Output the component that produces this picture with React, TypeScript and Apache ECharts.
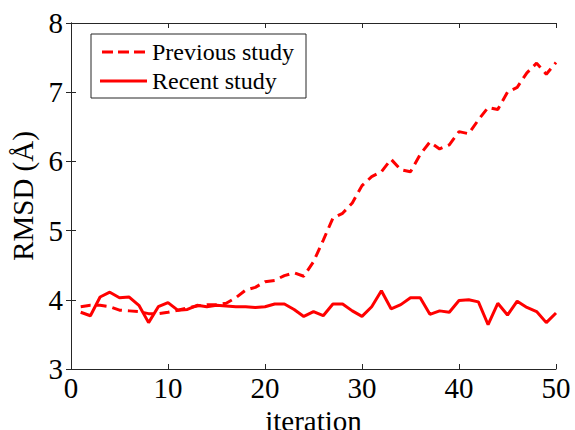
import React, { useEffect, useRef } from "react";
import * as echarts from "echarts";

const iterations: number[] = Array.from({ length: 50 }, (_, i) => i + 1);

const previousStudy: number[] = [
  3.9, 3.92, 3.92, 3.9, 3.85, 3.84, 3.83, 3.8, 3.8, 3.82,
  3.85, 3.88, 3.91, 3.93, 3.93, 3.95, 4.03, 4.14, 4.18, 4.26,
  4.28, 4.35, 4.39, 4.34, 4.55, 4.86, 5.18, 5.25, 5.4, 5.65,
  5.78, 5.85, 6.03, 5.88, 5.85, 6.1, 6.28, 6.18, 6.24, 6.43,
  6.4, 6.6, 6.78, 6.75, 7.0, 7.07, 7.28, 7.42, 7.26, 7.43,
];

const recentStudy: number[] = [
  3.82, 3.77, 4.04, 4.11, 4.03, 4.04, 3.92, 3.67, 3.9, 3.96,
  3.85, 3.86, 3.92, 3.9, 3.92, 3.91, 3.9, 3.9, 3.89, 3.9,
  3.94, 3.94, 3.86, 3.76, 3.83, 3.77, 3.94, 3.94, 3.84, 3.76,
  3.9, 4.13, 3.87, 3.93, 4.03, 4.03, 3.79, 3.84, 3.82, 3.99,
  4.0, 3.97, 3.64, 3.95, 3.78, 3.98, 3.89, 3.83, 3.67, 3.81,
];

const seriesNames = ["Previous study", "Recent study"];
const FONT = "Liberation Serif";

const DASH_ICON = "path://M0,0H11V3H0Z M16,0H27V3H16Z M32,0H43V3H32Z";
const SOLID_ICON = "path://M0,0H47V3H0Z";

export default function App() {
  const ref = useRef<HTMLDivElement>(null);
  useEffect(() => {
    if (!ref.current) return;
    const chart = echarts.init(ref.current, null, { renderer: "svg" });
    const axisLine = { show: true, lineStyle: { color: "#262626", width: 1 } };
    const tick = { show: true, inside: true, length: 5, lineStyle: { color: "#262626" } };
    chart.setOption({
      animation: false,
      backgroundColor: "#ffffff",
      textStyle: { fontFamily: FONT },
      grid: { left: 71, right: 19, top: 23, bottom: 61, containLabel: false, outerBoundsMode: "none" },
      legend: {
        orient: "vertical",
        left: 91,
        top: 34,
        data: [
          { name: seriesNames[0], icon: DASH_ICON, itemStyle: { color: "#ff0000" } },
          { name: seriesNames[1], icon: SOLID_ICON, itemStyle: { color: "#ff0000" } },
        ],
        backgroundColor: "#ffffff",
        borderColor: "#262626",
        borderWidth: 1,
        borderRadius: 0,
        padding: [6, 12, 5, 9],
        itemWidth: 47,
        itemHeight: 3,
        itemGap: 5,
        textStyle: { fontFamily: FONT, fontSize: 24, color: "#000" },
      },
      xAxis: [
        {
          type: "value",
          min: 0,
          max: 50,
          interval: 10,
          name: "iteration",
          nameLocation: "middle",
          nameGap: 28,
          nameTextStyle: { fontFamily: FONT, fontSize: 29, color: "#000" },
          axisLine,
          axisTick: tick,
          splitLine: { show: false },
          axisLabel: { fontFamily: FONT, fontSize: 29, color: "#000", margin: 4 },
        },
        {
          type: "value",
          position: "top",
          min: 0,
          max: 50,
          interval: 10,
          axisLine,
          axisTick: tick,
          splitLine: { show: false },
          axisLabel: { show: false },
        },
      ],
      yAxis: [
        {
          type: "value",
          min: 3,
          max: 8,
          interval: 1,
          name: "RMSD (Å)",
          nameLocation: "middle",
          nameGap: 32,
          nameTextStyle: { fontFamily: FONT, fontSize: 29, color: "#000" },
          axisLine,
          axisTick: tick,
          splitLine: { show: false },
          axisLabel: { fontFamily: FONT, fontSize: 29, color: "#000", margin: 8 },
        },
        {
          type: "value",
          position: "right",
          min: 3,
          max: 8,
          interval: 1,
          axisLine,
          axisTick: tick,
          splitLine: { show: false },
          axisLabel: { show: false },
        },
      ],
      series: [
        {
          name: seriesNames[0],
          type: "line",
          data: iterations.map((x, i) => [x, previousStudy[i]]),
          symbol: "none",
          lineStyle: { color: "#ff0000", width: 3, type: [10, 6] },
          itemStyle: { color: "#ff0000" },
        },
        {
          name: seriesNames[1],
          type: "line",
          data: iterations.map((x, i) => [x, recentStudy[i]]),
          symbol: "none",
          lineStyle: { color: "#ff0000", width: 3, type: "solid" },
          itemStyle: { color: "#ff0000" },
        },
      ],
    });
    return () => chart.dispose();
  }, []);
  return <div ref={ref} style={{ width: 575, height: 430, position: "absolute", left: 0, top: 0 }} />;
}
